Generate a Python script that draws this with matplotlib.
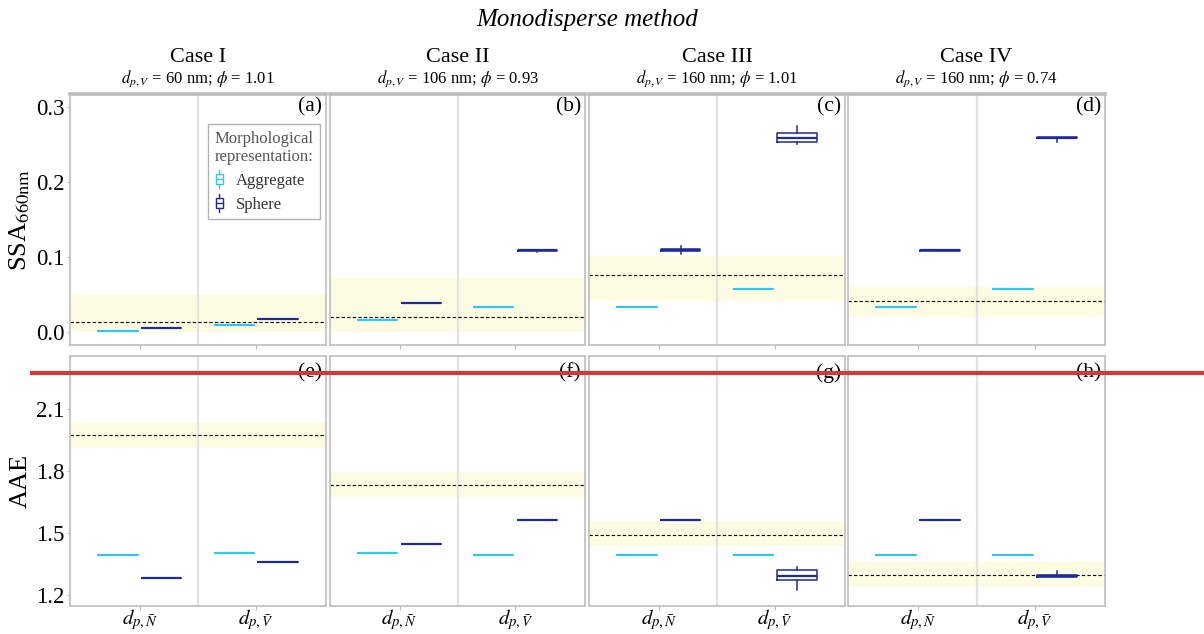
import matplotlib
matplotlib.use('Agg')
import matplotlib.pyplot as plt
from matplotlib.legend_handler import HandlerBase
from matplotlib.patches import Rectangle
from matplotlib.lines import Line2D

plt.rcParams['font.family'] = ['Liberation Serif', 'DejaVu Serif']
plt.rcParams['mathtext.fontset'] = 'stix'

# ---------------- data ----------------
cases = ['Case I', 'Case II', 'Case III', 'Case IV']
case_dp = ['60', '106', '160', '160']
case_phi = ['1.01', '0.93', '1.01', '0.74']
tags_top = ['(a)', '(b)', '(c)', '(d)']
tags_bot = ['(e)', '(f)', '(g)', '(h)']
x_labels = [r'$d_{p,\bar{N}}$', r'$d_{p,\bar{V}}$']
series_names = ['Aggregate', 'Sphere']

# SSA660nm  (per case: [d_pN, d_pV])
ssa_agg_med = [[0.002, 0.009], [0.016, 0.033], [0.033, 0.057], [0.033, 0.057]]
ssa_sph_med = [[0.005, 0.018], [0.039, 0.109], [0.109, 0.2587], [0.109, 0.259]]
ssa_sph_q1 = [[0.005, 0.018], [0.039, 0.1084], [0.1075, 0.2535], [0.1083, 0.2580]]
ssa_sph_q3 = [[0.005, 0.018], [0.039, 0.1100], [0.1105, 0.2645], [0.1100, 0.2600]]
ssa_sph_lo = [[0.005, 0.018], [0.039, 0.1070], [0.1035, 0.2500], [0.1083, 0.2537]]
ssa_sph_hi = [[0.005, 0.018], [0.039, 0.1100], [0.1150, 0.2740], [0.1100, 0.2600]]
ssa_ref = [0.014, 0.0204, 0.0756, 0.042]
ssa_ref_lo = [0.0, 0.0, 0.041, 0.020]
ssa_ref_hi = [0.049, 0.072, 0.102, 0.060]
ssa_ticks = [0.0, 0.1, 0.2, 0.3]

# AAE
aae_agg_med = [[1.394, 1.405], [1.405, 1.394], [1.394, 1.394], [1.394, 1.394]]
aae_sph_med = [[1.282, 1.361], [1.446, 1.564], [1.564, 1.292], [1.564, 1.294]]
aae_sph_q1 = [[1.282, 1.361], [1.446, 1.564], [1.564, 1.271], [1.564, 1.289]]
aae_sph_q3 = [[1.282, 1.361], [1.446, 1.564], [1.564, 1.320], [1.564, 1.299]]
aae_sph_lo = [[1.282, 1.361], [1.446, 1.564], [1.564, 1.226], [1.564, 1.289]]
aae_sph_hi = [[1.282, 1.361], [1.446, 1.564], [1.564, 1.334], [1.564, 1.315]]
aae_ref = [1.976, 1.735, 1.491, 1.295]
aae_ref_lo = [1.914, 1.676, 1.439, 1.239]
aae_ref_hi = [2.032, 1.795, 1.557, 1.360]
aae_ticks = [1.2, 1.5, 1.8, 2.1]

# ---------------- style ----------------
C_AGG = '#2ec6f2'
C_SPH = '#1c2b99'
BAND = '#fcfce2'
SPINE = '#bdbdbd'

W, H = 1204, 634
fig = plt.figure(figsize=(W / 100, H / 100), dpi=100)

col_x = [(70, 326), (330, 585), (589, 845), (848, 1105)]
row_y = [(94, 345), (356, 606)]


def make_ax(c, r):
    x0, x1 = col_x[c]
    y0, y1 = row_y[r]
    return fig.add_axes([x0 / W, 1 - y1 / H, (x1 - x0) / W, (y1 - y0) / H])


def draw_boxes(ax, med, q1, q3, lo, hi, offset, color):
    stats = []
    for j in range(2):
        stats.append(dict(med=med[j], q1=q1[j], q3=q3[j],
                          whislo=lo[j], whishi=hi[j], fliers=[]))
    ax.bxp(stats, positions=[1 + offset, 2 + offset], widths=0.3375,
           showfliers=False, showcaps=False, manage_ticks=False,
           boxprops=dict(color=color, lw=1.1),
           medianprops=dict(color=color, lw=1.6),
           whiskerprops=dict(color=color, lw=1.1), zorder=3)


class BoxHandler(HandlerBase):
    def create_artists(self, legend, orig_handle, xdescent, ydescent,
                       width, height, fontsize, trans):
        color = orig_handle.get_color()
        cx = width / 2 - xdescent
        bw = width * 0.7
        bh = height * 0.62
        cy = height / 2 - ydescent
        rect = Rectangle((cx - bw / 2, cy - bh / 2), bw, bh, fill=False,
                         edgecolor=color, lw=1.0, transform=trans)
        med = Line2D([cx - bw / 2, cx + bw / 2], [cy, cy], color=color,
                     lw=1.0, transform=trans)
        w1 = Line2D([cx, cx], [cy + bh / 2, cy + height * 0.55], color=color,
                    lw=1.0, transform=trans)
        w2 = Line2D([cx, cx], [cy - bh / 2, cy - height * 0.55], color=color,
                    lw=1.0, transform=trans)
        return [rect, med, w1, w2]


def style_ax(ax, ylim, ticks, first_col, bottom_row, top_row):
    ax.set_xlim(0.4, 2.6)
    ax.set_ylim(*ylim)
    for s in ax.spines.values():
        s.set_color(SPINE)
        s.set_linewidth(1.2)
    if top_row:
        ax.spines['top'].set_linewidth(2.6)
    ax.axvline(1.5, color='#e2e2e2', lw=1.6, zorder=0.5)
    ax.set_xticks([1, 2])
    if bottom_row:
        ax.set_xticklabels(x_labels, fontsize=15, va='baseline')
        ax.tick_params(axis='x', length=3, color=SPINE, pad=10)
    else:
        ax.set_xticklabels([])
        ax.tick_params(axis='x', length=3, color=SPINE)
    ax.set_yticks(ticks)
    if first_col:
        ax.set_yticklabels([f'{t:.1f}' for t in ticks], fontsize=16.5)
        ax.tick_params(axis='y', length=2, color=SPINE, pad=2)
    else:
        ax.set_yticklabels([])
        ax.tick_params(axis='y', length=0)


for c in range(4):
    # ---- SSA row ----
    ax = make_ax(c, 0)
    ax.axhspan(ssa_ref_lo[c], ssa_ref_hi[c], xmin=0, xmax=1, color=BAND, lw=0, zorder=0.3)
    ax.axhline(ssa_ref[c], color='black', lw=0.8, ls=(0, (3, 2)), zorder=2)
    draw_boxes(ax, ssa_agg_med[c], ssa_agg_med[c], ssa_agg_med[c],
               ssa_agg_med[c], ssa_agg_med[c], -0.1875, C_AGG)
    draw_boxes(ax, ssa_sph_med[c], ssa_sph_q1[c], ssa_sph_q3[c],
               ssa_sph_lo[c], ssa_sph_hi[c], 0.1875, C_SPH)
    style_ax(ax, (-0.017, 0.317), ssa_ticks, c == 0, False, True)
    ax.text(0.985, 0.948, tags_top[c], transform=ax.transAxes, ha='right',
            va='center', fontsize=15.5)
    x_mid = (col_x[c][0] + col_x[c][1]) / 2 / W
    fig.text(x_mid, 1 - 57 / H, cases[c], ha='center', va='center', fontsize=16)
    fig.text(x_mid, 1 - 79 / H,
             r'$d_{p,V}$' + f' = {case_dp[c]} nm; ' + r'$\phi$' + f' = {case_phi[c]}',
             ha='center', va='center', fontsize=12)
    if c == 0:
        ax.set_ylabel(r'SSA$_{\mathrm{660nm}}$', fontsize=19)
        ax.yaxis.set_label_coords(-0.148, 0.5)
        handles = [Line2D([], [], color=C_AGG), Line2D([], [], color=C_SPH)]
        leg = ax.legend(handles, series_names,
                        handler_map={Line2D: BoxHandler()},
                        title='Morphological\nrepresentation:',
                        loc='upper right', bbox_to_anchor=(0.977, 0.88),
                        borderaxespad=0, fontsize=12, title_fontsize=12,
                        handlelength=0.6, handleheight=1.15, handletextpad=0.7,
                        labelspacing=0.35, frameon=True, fancybox=False,
                        alignment='left', borderpad=0.4)
        leg.get_frame().set_edgecolor('#a0a0a0')
        leg.get_frame().set_linewidth(1.0)
        leg.get_title().set_color('#555555')
        for t in leg.get_texts():
            t.set_color('#333333')

    # ---- AAE row ----
    ax = make_ax(c, 1)
    ax.axhspan(aae_ref_lo[c], aae_ref_hi[c], color=BAND, lw=0, zorder=0.3)
    ax.axhline(aae_ref[c], color='black', lw=0.8, ls=(0, (3, 2)), zorder=2)
    draw_boxes(ax, aae_agg_med[c], aae_agg_med[c], aae_agg_med[c],
               aae_agg_med[c], aae_agg_med[c], -0.1875, C_AGG)
    draw_boxes(ax, aae_sph_med[c], aae_sph_q1[c], aae_sph_q3[c],
               aae_sph_lo[c], aae_sph_hi[c], 0.1875, C_SPH)
    style_ax(ax, (1.147, 2.358), aae_ticks, c == 0, True, False)
    ax.text(0.985, 0.932, tags_bot[c], transform=ax.transAxes, ha='right',
            va='center', fontsize=15.5)
    if c == 0:
        ax.set_ylabel('AAE', fontsize=19)
        ax.yaxis.set_label_coords(-0.148, 0.5)

fig.text((70 + 1105) / 2 / W, 1 - 20 / H, 'Monodisperse method', ha='center',
         va='center', fontsize=18, style='italic')

# red horizontal marker line across the figure
fig.add_artist(Line2D([32 / W, 1.0], [1 - 373 / H, 1 - 373 / H],
                      color='#d23a3a', lw=3.0, transform=fig.transFigure,
                      zorder=100))

fig.savefig('out.png', dpi=100)
